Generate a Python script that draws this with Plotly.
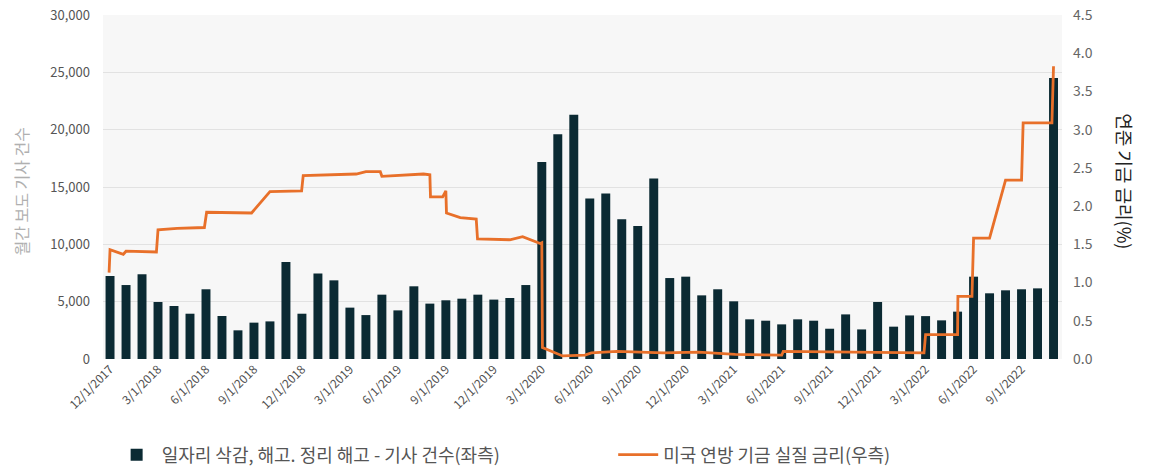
import plotly.graph_objects as go

# ---- data ----
months = []
for y in range(2017, 2023):
    for m in range(1, 13):
        if (y == 2017 and m < 12) or (y == 2022 and m > 11):
            continue
        months.append(f"{m}/1/{y}")

layoff_counts = [
    7240, 6450, 7390, 4970, 4620, 3950, 6080, 3750, 2500, 3170, 3280, 8460,
    3950, 7450, 6860, 4480, 3830, 5610, 4240, 6340, 4830, 5120, 5260, 5610,
    5180, 5320, 6450, 17190, 19610, 21290, 13990, 14430, 12190, 11600, 15740, 7060,
    7180, 5550, 6080, 5030, 3460, 3340, 3020, 3460, 3340, 2640, 3890, 2580,
    4970, 2820, 3800, 3740, 3370, 4130, 7180, 5730, 5990, 6080, 6160, 24500,
]

# line position in months since 12/1/2017 and the rate
rate_pos = [
    -0.06, 0.0, 0.83, 1.0, 2.9, 3.0, 4.2, 5.9, 6.04, 8.85, 10.0, 11.98, 12.08,
    15.4, 16.0, 16.9, 17.0, 19.6, 20.0, 20.04, 20.8, 21.0, 21.04, 21.9, 22.9,
    22.98, 25.0, 25.8, 26.9, 27.0, 27.04, 27.9, 28.3, 29.7, 30.1, 31.7, 34.6,
    36.8, 39.1, 42.0, 42.1, 50.9, 51.0, 53.0, 53.02, 53.9, 54.0, 55.0, 56.0,
    57.0, 57.1, 58.9, 59.0,
]
rate_values = [
    1.13, 1.43, 1.37, 1.41, 1.40, 1.69, 1.71, 1.72, 1.92, 1.91, 2.19, 2.20, 2.40,
    2.42, 2.45, 2.45, 2.39, 2.42, 2.41, 2.12, 2.12, 2.20, 1.91, 1.85, 1.83,
    1.57, 1.56, 1.60, 1.51, 1.52, 0.15, 0.08, 0.04, 0.05, 0.08, 0.10, 0.08,
    0.09, 0.06, 0.05, 0.10, 0.08, 0.32, 0.32, 0.82, 0.82, 1.58, 1.58, 2.34,
    2.34, 3.09, 3.09, 3.83,
]

bar_name = "일자리 삭감, 해고. 정리 해고 - 기사 건수(좌측)"
line_name = "미국 연방 기금 실질 금리(우측)"
left_title = "월간 보도 기사 건수"
right_title = "연준 기금 금리(%)"

# ---- figure ----
x_idx = list(range(len(months)))
fig = go.Figure()
fig.add_trace(go.Bar(
    x=x_idx, y=layoff_counts, name=bar_name,
    marker=dict(color="#0b2a33", line=dict(width=0)),
    width=0.56, yaxis="y", legend="legend",
))
fig.add_trace(go.Scatter(
    x=rate_pos, y=rate_values, name=line_name, mode="lines",
    line=dict(color="#e8702a", width=2.8), yaxis="y2", legend="legend2",
))

font_family = "Noto Sans CJK KR, Noto Sans, sans-serif"
legend_common = dict(
    orientation="h", yanchor="middle", y=-0.279, xanchor="left",
    font=dict(size=18, color="#555555"), itemwidth=40,
    bgcolor="rgba(0,0,0,0)",
)
fig.update_layout(
    width=1153, height=467,
    margin=dict(l=103, r=91, t=15, b=108, autoexpand=False),
    paper_bgcolor="white", plot_bgcolor="#f7f7f7",
    font=dict(family=font_family, color="#555555", size=13),
    showlegend=True,
    legend=dict(x=0.009, **legend_common),
    legend2=dict(x=0.532, **legend_common),
    xaxis=dict(
        range=[-0.44, 59.53], automargin=False,
        tickmode="array", tickvals=x_idx[::3], ticktext=months[::3],
        tickangle=-45, tickfont=dict(size=12, color="#505050"),
        showgrid=False, zeroline=False, showline=False, ticks="",
    ),
    yaxis=dict(
        range=[0, 30000], dtick=5000, tickformat=",", automargin=False,
        gridcolor="#e2e2e2", gridwidth=1, zeroline=False, showline=False,
        tickfont=dict(size=13, color="#555555"), ticklabelstandoff=12,
    ),
    yaxis2=dict(
        range=[0, 4.5], dtick=0.5, tickformat=".1f", overlaying="y", side="right",
        showgrid=False, zeroline=False, showline=False, automargin=False,
        tickfont=dict(size=14, color="#666666"), ticklabelstandoff=10,
    ),
    annotations=[
        dict(text=left_title, xref="paper", yref="paper", x=-0.0855, y=0.487,
             textangle=-90, showarrow=False, xanchor="center", yanchor="middle",
             font=dict(size=16, color="#b0b0b0")),
        dict(text=right_title, xref="paper", yref="paper", x=1.0657, y=0.517,
             textangle=90, showarrow=False, xanchor="center", yanchor="middle",
             font=dict(size=18, color="#222222")),
    ],
)

fig.write_html("out.html")
